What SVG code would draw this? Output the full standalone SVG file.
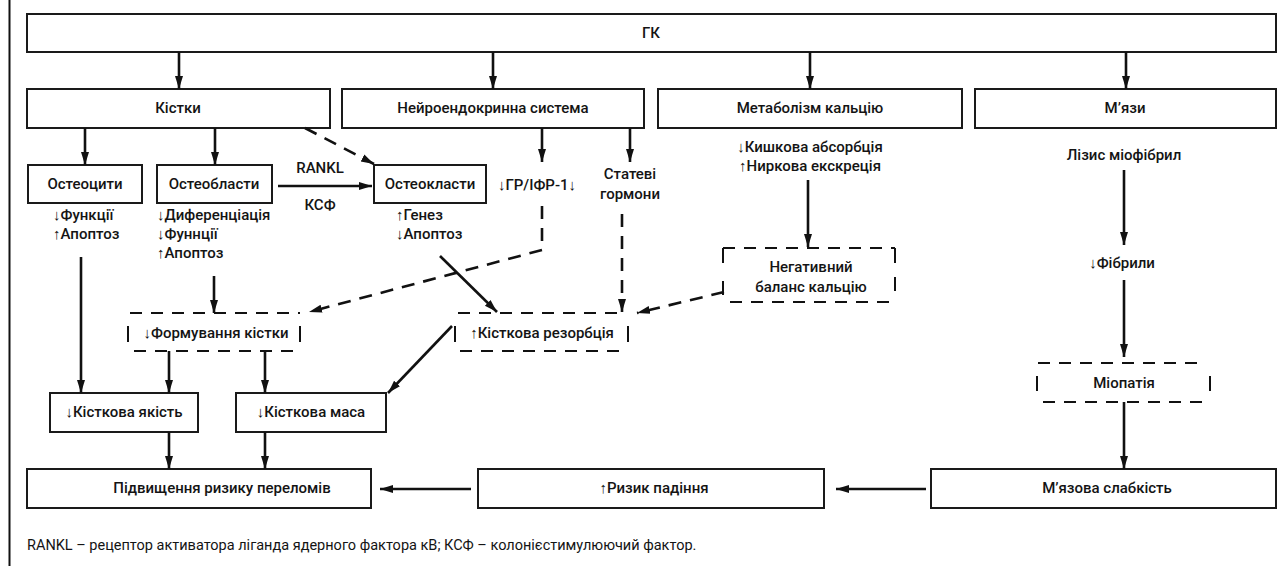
<svg xmlns="http://www.w3.org/2000/svg" width="1278" height="566" viewBox="0 0 1278 566">
<defs>
<style>
.box{fill:#fff;stroke:#1a1a1a;stroke-width:2}
.t{font-family:Roboto,"Liberation Sans",Arial,sans-serif;font-size:15px;font-weight:500;fill:#141414}
.f{font-family:Roboto,"Liberation Sans",Arial,sans-serif;font-size:14.5px;font-weight:400;fill:#141414}
.c{text-anchor:middle}
.ln{stroke:#111;stroke-width:2.6;fill:none}
.ds{stroke-dasharray:13 9}
.db{stroke:#111;stroke-width:2;fill:none;stroke-dasharray:12 9}
.bar{stroke:#111;stroke-width:2;fill:none}
</style>
<marker id="ah" markerUnits="userSpaceOnUse" markerWidth="14" markerHeight="10" refX="13" refY="5" orient="auto">
<path d="M0,1 L13,5 L0,9 z" fill="#111"/>
</marker>
</defs>
<rect width="1278" height="566" fill="#fff"/>
<line x1="9.5" y1="0" x2="9.5" y2="566" stroke="#111" stroke-width="2"/>

<g id="n-gk"><rect class="box" x="27" y="14" width="1249" height="38"/><text class="t c" x="651" y="38">ГК</text></g>
<g id="n-kistky"><rect class="box" x="27" y="89" width="303" height="39"/><text class="t c" x="178" y="113">Кістки</text></g>
<g id="n-neuro"><rect class="box" x="342" y="89" width="302" height="39"/><text class="t c" x="493" y="113">Нейроендокринна система</text></g>
<g id="n-metab"><rect class="box" x="658" y="89" width="304" height="39"/><text class="t c" x="810" y="113">Метаболізм кальцію</text></g>
<g id="n-muscle"><rect class="box" x="975" y="89" width="301" height="39"/><text class="t c" x="1125" y="113">М’язи</text></g>

<g id="n-osteocyty"><rect class="box" x="28" y="165" width="114" height="38"/><text class="t c" x="85" y="189">Остеоцити</text></g>
<g id="n-osteoblasty"><rect class="box" x="157" y="165" width="115" height="38"/><text class="t c" x="214" y="189">Остеобласти</text></g>
<g id="n-osteoklasty"><rect class="box" x="374" y="165" width="112" height="38"/><text class="t c" x="430" y="189">Остеокласти</text></g>

<g id="n-osteocyty-eff"><text class="t" x="53" y="220">↓Функції</text><text class="t" x="53" y="239">↑Апоптоз</text></g>
<g id="n-osteoblasty-eff"><text class="t" x="157" y="220">↓Диференціація</text><text class="t" x="157" y="239">↓Фуннції</text><text class="t" x="157" y="258">↑Апоптоз</text></g>
<g id="n-osteoklasty-eff"><text class="t" x="396" y="220">↑Генез</text><text class="t" x="396" y="239">↓Апоптоз</text></g>
<g id="n-gr"><text class="t c" x="537" y="190">↓ГР/ІФР-1↓</text></g>
<g id="n-sex"><text class="t c" x="630" y="179">Статеві</text><text class="t c" x="630" y="199">гормони</text></g>
<g id="n-ca-eff"><text class="t c" x="810" y="152">↓Кишкова абсорбція</text><text class="t c" x="810" y="171">↑Ниркова екскреція</text></g>
<g id="n-lysis"><text class="t c" x="1124" y="160">Лізис міофібрил</text></g>
<g id="n-fibr"><text class="t c" x="1122" y="268">↓Фібрили</text></g>

<g id="n-neg">
<line class="db" x1="723" y1="248" x2="895" y2="248"/>
<line class="db" x1="730" y1="302" x2="895" y2="302"/>
<line class="bar" x1="723" y1="248" x2="723" y2="263"/><line class="bar" x1="723" y1="281" x2="723" y2="295"/>
<line class="bar" x1="895" y1="248" x2="895" y2="263"/><line class="bar" x1="895" y1="277" x2="895" y2="291"/>
<text class="t c" x="811" y="272">Негативний</text><text class="t c" x="811" y="292">баланс кальцію</text>
</g>
<g id="n-form">
<line class="db" x1="130" y1="313" x2="300" y2="313"/>
<line class="db" x1="134" y1="351" x2="300" y2="351"/>
<line class="bar" x1="128" y1="326" x2="128" y2="342"/><line class="bar" x1="300" y1="326" x2="300" y2="342"/>
<text class="t c" x="216" y="338">↓Формування кістки</text>
</g>
<g id="n-resorb">
<line class="db" x1="458" y1="313" x2="626" y2="313"/>
<line class="db" x1="460" y1="351" x2="628" y2="351"/>
<line class="bar" x1="455" y1="326" x2="455" y2="342"/><line class="bar" x1="628" y1="326" x2="628" y2="342"/>
<text class="t c" x="542" y="338">↑Кісткова резорбція</text>
</g>
<g id="n-myo">
<line class="db" x1="1038" y1="363" x2="1206" y2="363"/>
<line class="db" x1="1043" y1="402" x2="1206" y2="402"/>
<line class="bar" x1="1037" y1="376" x2="1037" y2="391"/><line class="bar" x1="1210" y1="376" x2="1210" y2="391"/>
<text class="t c" x="1124" y="388">Міопатія</text>
</g>

<g id="n-quality"><rect class="box" x="50" y="393" width="148" height="39"/><text class="t c" x="124" y="417">↓Кісткова якість</text></g>
<g id="n-mass"><rect class="box" x="236" y="393" width="150" height="39"/><text class="t c" x="311" y="417">↓Кісткова маса</text></g>

<g id="n-fracture"><rect class="box" x="27" y="469" width="344" height="39"/><text class="t c" x="222" y="493">Підвищення ризику переломів</text></g>
<g id="n-fall"><rect class="box" x="478" y="469" width="346" height="39"/><text class="t c" x="654" y="493">↑Ризик падіння</text></g>
<g id="n-weak"><rect class="box" x="931" y="469" width="345" height="39"/><text class="t c" x="1107" y="493">М’язова слабкість</text></g>

<g id="connectors">
<line class="ln" x1="179" y1="52" x2="179" y2="89" marker-end="url(#ah)"/>
<line class="ln" x1="493" y1="52" x2="493" y2="89" marker-end="url(#ah)"/>
<line class="ln" x1="810" y1="52" x2="810" y2="89" marker-end="url(#ah)"/>
<line class="ln" x1="1126" y1="52" x2="1126" y2="89" marker-end="url(#ah)"/>
<line class="ln" x1="85" y1="128" x2="85" y2="165" marker-end="url(#ah)"/>
<line class="ln" x1="215" y1="128" x2="215" y2="165" marker-end="url(#ah)"/>
<line class="ln ds" x1="305" y1="128" x2="374" y2="164" marker-end="url(#ah)"/>
<line class="ln" x1="278" y1="186" x2="372" y2="186" marker-end="url(#ah)"/>
<text class="t c" x="320" y="173">RANKL</text>
<text class="t c" x="320" y="210">КСФ</text>
<line class="ln" x1="542" y1="128" x2="542" y2="162" marker-end="url(#ah)"/>
<line class="ln" x1="630" y1="128" x2="630" y2="162" marker-end="url(#ah)"/>
<polyline class="ln ds" points="542,206 542,250 309,312" marker-end="url(#ah)"/>
<line class="ln ds" x1="622" y1="214" x2="622" y2="312" marker-end="url(#ah)"/>
<line class="ln ds" x1="724" y1="292" x2="637" y2="313" marker-end="url(#ah)"/>
<line class="ln" x1="808" y1="180" x2="808" y2="247" marker-end="url(#ah)"/>
<line class="ln" x1="440" y1="256" x2="497" y2="312" marker-end="url(#ah)"/>
<line class="ln" x1="81" y1="257" x2="81" y2="393" marker-end="url(#ah)"/>
<line class="ln" x1="214" y1="276" x2="214" y2="313" marker-end="url(#ah)"/>
<line class="ln" x1="169" y1="351" x2="169" y2="393" marker-end="url(#ah)"/>
<line class="ln" x1="265" y1="351" x2="265" y2="393" marker-end="url(#ah)"/>
<line class="ln" x1="452" y1="326" x2="388" y2="393" marker-end="url(#ah)"/>
<line class="ln" x1="169" y1="432" x2="169" y2="469" marker-end="url(#ah)"/>
<line class="ln" x1="265" y1="432" x2="265" y2="469" marker-end="url(#ah)"/>
<line class="ln" x1="1124" y1="170" x2="1124" y2="245" marker-end="url(#ah)"/>
<line class="ln" x1="1124" y1="280" x2="1124" y2="357" marker-end="url(#ah)"/>
<line class="ln" x1="1124" y1="402" x2="1124" y2="469" marker-end="url(#ah)"/>
<line class="ln" x1="926" y1="489" x2="836" y2="489" marker-end="url(#ah)"/>
<line class="ln" x1="471" y1="489" x2="380" y2="489" marker-end="url(#ah)"/>
</g>

<text class="f" x="27" y="550">RANKL – рецептор активатора ліганда ядерного фактора кВ; КСФ – колонієстимулюючий фактор.</text>
</svg>
